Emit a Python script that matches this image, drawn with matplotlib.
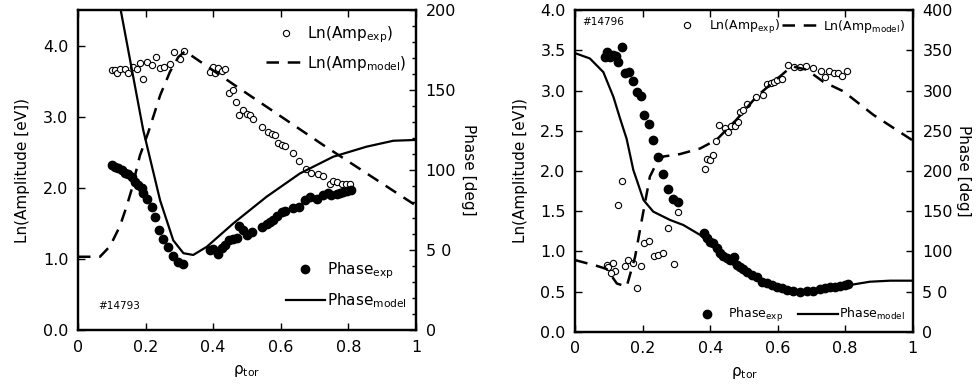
import numpy as np
import matplotlib
matplotlib.use("Agg")
import matplotlib.pyplot as plt
from matplotlib.ticker import MultipleLocator, FixedLocator, FixedFormatter, FormatStrFormatter

plt.rcParams['font.family'] = ['DejaVu Sans']
plt.rcParams['mathtext.default'] = 'regular'
plt.rcParams['font.size'] = 11

# ---- shot #14793 (left) ----
rho_amp_exp_1 = [0.100, 0.109, 0.114, 0.124, 0.139, 0.149, 0.164, 0.174, 0.184, 0.193,
                 0.203, 0.218, 0.231, 0.243, 0.254, 0.272, 0.284, 0.302, 0.314, 0.391,
                 0.400, 0.405, 0.415, 0.425, 0.435, 0.448, 0.458, 0.467, 0.477, 0.487,
                 0.499, 0.509, 0.519, 0.543, 0.561, 0.573, 0.583, 0.593, 0.603, 0.612,
                 0.637, 0.655, 0.675, 0.689, 0.709, 0.726, 0.746, 0.755, 0.767, 0.780,
                 0.793, 0.805]
amp_exp_1 = [3.65, 3.66, 3.61, 3.67, 3.67, 3.61, 3.70, 3.67, 3.75, 3.53,
             3.77, 3.73, 3.84, 3.69, 3.70, 3.74, 3.91, 3.81, 3.93, 3.63,
             3.70, 3.62, 3.69, 3.64, 3.67, 3.34, 3.37, 3.20, 3.03, 3.10,
             3.04, 3.03, 2.97, 2.85, 2.78, 2.76, 2.74, 2.63, 2.60, 2.59,
             2.49, 2.38, 2.26, 2.21, 2.19, 2.16, 2.05, 2.09, 2.08, 2.05,
             2.05, 2.05]
rho_amp_model_1 = [0.0, 0.065, 0.095, 0.124, 0.144, 0.159, 0.183, 0.208, 0.243, 0.272,
                   0.297, 0.317, 0.48, 0.726, 1.0]
amp_model_1 = [1.03, 1.03, 1.18, 1.46, 1.74, 1.98, 2.45, 2.78, 3.30, 3.63,
               3.84, 3.92, 3.39, 2.60, 1.75]

rho_ph_exp_1 = [0.100, 0.109, 0.119, 0.129, 0.139, 0.149, 0.159, 0.169, 0.178, 0.188,
                0.193, 0.203, 0.218, 0.228, 0.241, 0.252, 0.267, 0.282, 0.297, 0.312,
                0.391, 0.400, 0.415, 0.425, 0.435, 0.448, 0.460, 0.471, 0.477, 0.489,
                0.501, 0.514, 0.543, 0.558, 0.568, 0.578, 0.588, 0.603, 0.612, 0.635,
                0.655, 0.672, 0.686, 0.706, 0.726, 0.741, 0.750, 0.765, 0.775, 0.785,
                0.795, 0.807]
ph_exp_1 = [103.1, 102.1, 101.0, 100.0, 98.3, 97.5, 95.8, 92.7, 90.6, 88.5,
            85.4, 81.7, 77.1, 70.8, 62.5, 56.7, 52.1, 46.3, 42.7, 41.3,
            50.0, 50.4, 47.5, 51.0, 53.1, 56.3, 56.7, 57.3, 65.0, 62.5,
            59.4, 61.5, 64.2, 66.3, 67.7, 68.8, 71.3, 74.0, 74.6, 76.0,
            77.1, 81.3, 82.9, 81.7, 84.4, 85.4, 84.4, 85.0, 85.8, 86.5,
            87.1, 87.5]
rho_ph_model_1 = [0.122, 0.193, 0.243, 0.282, 0.312, 0.341, 0.381, 0.46, 0.558, 0.657,
                  0.755, 0.854, 0.933, 1.0]
ph_model_1 = [205.0, 125.0, 81.0, 56.0, 48.0, 46.9, 52.0, 66.7, 83.3, 97.9,
              108.3, 114.6, 118.3, 118.8]

# ---- shot #14796 (right) ----
rho_amp_exp_2 = [0.1375, 0.1275, 0.093, 0.098, 0.111, 0.118, 0.105, 0.147, 0.157, 0.170,
                 0.182, 0.194, 0.204, 0.219, 0.233, 0.246, 0.261, 0.276, 0.291, 0.304,
                 0.383, 0.390, 0.399, 0.409, 0.417, 0.427, 0.444, 0.452, 0.461, 0.473,
                 0.481, 0.488, 0.498, 0.508, 0.536, 0.557, 0.567, 0.579, 0.589, 0.599,
                 0.612, 0.630, 0.648, 0.666, 0.684, 0.704, 0.728, 0.740, 0.753, 0.767,
                 0.780, 0.792, 0.805]
amp_exp_2 = [1.88, 1.58, 0.83, 0.80, 0.86, 0.76, 0.73, 0.82, 0.89, 0.85,
             0.55, 0.82, 1.11, 1.13, 0.94, 0.96, 0.98, 1.29, 0.84, 1.49,
             2.03, 2.15, 2.14, 2.20, 2.37, 2.57, 2.54, 2.48, 2.56, 2.56,
             2.61, 2.74, 2.76, 2.83, 2.92, 2.95, 3.08, 3.10, 3.11, 3.13,
             3.15, 3.32, 3.29, 3.29, 3.30, 3.28, 3.25, 3.17, 3.24, 3.22,
             3.22, 3.18, 3.24]
rho_amp_model_2 = [0.0, 0.063, 0.093, 0.123, 0.152, 0.177, 0.197, 0.221, 0.241, 0.261,
                   0.31, 0.37, 0.419, 0.478, 0.538, 0.627, 0.645, 0.686, 0.735, 0.795,
                   0.883, 1.0]
amp_model_2 = [0.89, 0.82, 0.78, 0.60, 0.56, 0.93, 1.39, 1.93, 2.10, 2.18,
               2.21, 2.28, 2.39, 2.64, 2.93, 3.25, 3.30, 3.26, 3.11, 2.99,
               2.70, 2.38]

rho_ph_exp_2 = [0.088, 0.093, 0.103, 0.111, 0.121, 0.127, 0.137, 0.147, 0.160, 0.172,
                0.182, 0.194, 0.205, 0.219, 0.231, 0.246, 0.259, 0.276, 0.289, 0.305,
                0.382, 0.389, 0.399, 0.409, 0.419, 0.429, 0.439, 0.449, 0.458, 0.471,
                0.478, 0.488, 0.498, 0.508, 0.523, 0.538, 0.552, 0.567, 0.582, 0.597,
                0.612, 0.626, 0.646, 0.666, 0.686, 0.706, 0.725, 0.740, 0.755, 0.770,
                0.785, 0.800, 0.809]
ph_exp_2 = [342.3, 348.5, 341.5, 344.4, 343.2, 336.1, 354.8, 322.4, 323.7, 312.4,
            298.8, 293.4, 269.7, 258.5, 238.6, 217.0, 196.3, 177.6, 165.1, 161.0,
            122.4, 116.2, 112.0, 110.0, 103.7, 98.3, 94.2, 91.3, 89.2, 93.4,
            83.0, 80.9, 77.6, 74.7, 70.5, 68.5, 62.2, 60.2, 58.1, 56.0,
            53.9, 51.9, 51.0, 49.8, 51.0, 51.0, 52.7, 53.9, 55.2, 56.0,
            57.3, 58.1, 59.3]
rho_ph_model_2 = [0.0, 0.043, 0.083, 0.113, 0.132, 0.152, 0.172, 0.182, 0.202, 0.231,
                  0.281, 0.32, 0.37, 0.439, 0.498, 0.557, 0.617, 0.656, 0.696, 0.755,
                  0.814, 0.873, 0.933, 1.0]
ph_model_2 = [346.5, 340.0, 323.0, 292.0, 266.0, 240.0, 201.0, 188.8, 163.9, 149.4,
              139.0, 132.8, 120.4, 93.4, 72.6, 60.2, 51.9, 48.5, 49.8, 53.9,
              58.1, 62.2, 63.5, 63.5]


def style_axes(ax, ax2, rpad):
    for a in (ax, ax2):
        for sp in a.spines.values():
            sp.set_linewidth(1.6)
    ax.tick_params(axis='both', which='both', direction='in', top=True, right=False,
                   width=1.0, length=5, labelsize=11.5, pad=7)
    ax2.tick_params(axis='y', which='both', direction='in', width=1.0, length=5,
                    labelsize=11.5, pad=7)
    ax2.tick_params(axis='y', which='minor', length=3)
    ax.set_xlim(0, 1)
    ax.xaxis.set_major_locator(FixedLocator([0, 0.2, 0.4, 0.6, 0.8, 1.0]))
    ax.xaxis.set_major_formatter(FixedFormatter(['0', '0.2', '0.4', '0.6', '0.8', '1']))
    ax.set_xlabel(r'ρ$_{tor}$', fontsize=11, labelpad=6)
    ax.set_ylabel('Ln(Amplitude [eV])', fontsize=11, labelpad=9)
    ax2.set_ylabel('Phase [deg]', fontsize=11, rotation=270, labelpad=rpad)


fig = plt.figure(figsize=(9.76, 3.85), dpi=100)
ax1 = fig.add_axes([0.0799, 0.1429, 0.3463, 0.831])
ax1b = ax1.twinx()
ax2 = fig.add_axes([0.5895, 0.1384, 0.3456, 0.835])
ax2b = ax2.twinx()

open_kw = dict(ls='none', marker='o', ms=4.5, mfc='white', mec='black', mew=0.8)
fill_kw = dict(ls='none', marker='o', ms=6, mfc='black', mec='black')
dash_kw = dict(color='black', lw=1.8, dashes=(5, 3.5))
solid_kw = dict(color='black', lw=1.6)

# left panel
h_ae, = ax1.plot(rho_amp_exp_1, amp_exp_1, **open_kw)
h_am, = ax1.plot(rho_amp_model_1, amp_model_1, **dash_kw)
h_pe, = ax1b.plot(rho_ph_exp_1, ph_exp_1, **fill_kw)
h_pm, = ax1b.plot(rho_ph_model_1, ph_model_1, **solid_kw)
ax1.set_ylim(0, 4.5)
ax1.yaxis.set_major_locator(FixedLocator([0, 1, 2, 3, 4]))
ax1.yaxis.set_major_formatter(FixedFormatter(['0.0', '1.0', '2.0', '3.0', '4.0']))
ax1b.set_ylim(0, 200)
ax1b.yaxis.set_major_locator(FixedLocator([0, 50, 100, 150, 200]))
ax1b.yaxis.set_major_formatter(FixedFormatter(['0', '5 0', '100', '150', '200']))
ax1b.yaxis.set_minor_locator(MultipleLocator(10))
style_axes(ax1, ax1b, 14)
ax1b.text(0.06, 0.3 / 4.5, '#14793', transform=ax1.transAxes, fontsize=7.5)

leg1 = ax1b.legend([h_ae, h_am], ['Ln(Amp$_{exp}$)', 'Ln(Amp$_{model}$)'],
                   loc='upper right', bbox_to_anchor=(1.0, 0.985), frameon=False,
                   fontsize=11, handlelength=2.6, handletextpad=0.1,
                   labelspacing=0.6, borderaxespad=0.2)
ax1b.add_artist(leg1)
ax1b.legend([h_pe, h_pm], ['Phase$_{exp}$', 'Phase$_{model}$'],
            loc='lower right', bbox_to_anchor=(1.0, 0.035), frameon=False,
            fontsize=11, handlelength=2.6, handletextpad=0.1,
            labelspacing=0.65, borderaxespad=0.2)

# right panel
g_ae, = ax2.plot(rho_amp_exp_2, amp_exp_2, **open_kw)
g_am, = ax2.plot(rho_amp_model_2, amp_model_2, **dash_kw)
g_pe, = ax2b.plot(rho_ph_exp_2, ph_exp_2, **fill_kw)
g_pm, = ax2b.plot(rho_ph_model_2, ph_model_2, **solid_kw)
ax2.set_ylim(0, 4.0)
ax2.yaxis.set_major_locator(MultipleLocator(0.5))
ax2.yaxis.set_major_formatter(FormatStrFormatter('%.1f'))
ax2b.set_ylim(0, 400)
ax2b.yaxis.set_major_locator(FixedLocator([0, 50, 100, 150, 200, 250, 300, 350, 400]))
ax2b.yaxis.set_major_formatter(FixedFormatter(['0', '5 0', '100', '150', '200',
                                               '250', '300', '350', '400']))
style_axes(ax2, ax2b, 13)
ax2b.text(0.02, 0.955, '#14796', transform=ax2.transAxes, fontsize=7.5)

leg2 = ax2b.legend([g_ae, g_am], ['Ln(Amp$_{exp}$)', 'Ln(Amp$_{model}$)'],
                   loc='upper right', bbox_to_anchor=(1.0, 1.0), frameon=False,
                   fontsize=9, ncol=2, handlelength=3.2, handletextpad=0.1,
                   columnspacing=0.2, borderaxespad=0.2)
ax2b.add_artist(leg2)
ax2b.legend([g_pe, g_pm], ['Phase$_{exp}$', 'Phase$_{model}$'],
            loc='lower right', bbox_to_anchor=(1.0, 0.0), frameon=False,
            fontsize=9, ncol=2, handlelength=3.2, handletextpad=0.1,
            columnspacing=1.2, borderaxespad=0.2)

fig.savefig('out.png', dpi=100)
